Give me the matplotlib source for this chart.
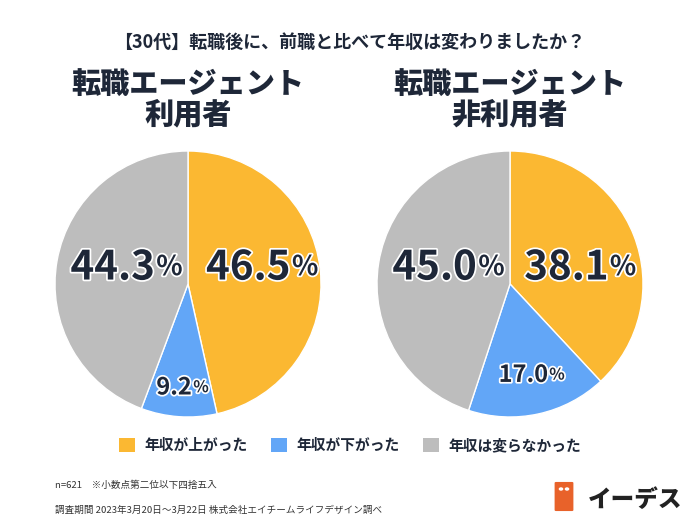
import numpy as np
import matplotlib.pyplot as plt
import matplotlib.patheffects as pe
from matplotlib.patches import Patch, FancyBboxPatch, Circle

plt.rcParams['font.family'] = ['Noto Sans CJK JP', 'DejaVu Sans']

# data
categories = ["年収が上がった", "年収が下がった", "年収は変らなかった"]
users = [46.5, 9.2, 44.3]
non_users = [38.1, 17.0, 45.0]
group_titles = ["転職エージェント\n利用者", "転職エージェント\n非利用者"]
title = "【30代】転職後に、前職と比べて年収は変わりましたか？"
note1 = "n=621　※小数点第二位以下四捨五入"
note2 = "調査期間 2023年3月20日～3月22日 株式会社エイチームライフデザイン調べ"

colors = ["#FBB832", "#62A6F7", "#BDBDBD"]
text_col = "#1E2738"

W, H = 700, 525
fig = plt.figure(figsize=(7, 5.25), dpi=100)
fig.patch.set_facecolor("white")


def px_axes(cx, cy, r):
    return fig.add_axes([(cx - r) / W, (H - cy - r) / H, 2 * r / W, 2 * r / H])


def draw_pie(ax, vals, dists, sizes):
    wedges, _ = ax.pie(vals, colors=colors, startangle=90, counterclock=False,
                       wedgeprops=dict(edgecolor="white", linewidth=1.0))
    ax.set_xlim(-1, 1)
    ax.set_ylim(-1, 1)
    ax.set_aspect("equal")
    ax.axis("off")
    for w, v, d, fs in zip(wedges, vals, dists, sizes):
        ang = np.deg2rad((w.theta1 + w.theta2) / 2)
        if fs > 20:
            # big labels sit on one line, slightly above the centre
            x = d * np.sign(np.cos(ang))
            y = 0.12
        else:
            x = d * np.cos(ang)
            y = d * np.sin(ang)
        pct_fs = fs * 0.68
        stroke = [pe.withStroke(linewidth=2.5, foreground="white")]
        t = ax.annotate(f"{v:.1f}", (x, y), xytext=(-pct_fs * 0.42, 0),
                        textcoords="offset points", ha="center", va="center",
                        fontsize=fs, fontweight="bold", color=text_col,
                        path_effects=stroke)
        ax.annotate("%", xy=(1, 0.18), xycoords=t, xytext=(1, 0),
                    textcoords="offset points", ha="left", va="bottom",
                    fontsize=pct_fs, fontweight="bold", color=text_col,
                    path_effects=stroke)


ax1 = px_axes(188, 284, 133)
draw_pie(ax1, users, [0.54, 0.78, 0.48], [29, 17, 29])
ax2 = px_axes(510, 284, 133)
draw_pie(ax2, non_users, [0.51, 0.70, 0.48], [29, 17, 29])

fig.text(350 / W, 1 - 42 / H, title, ha="center", va="center",
         fontsize=13, fontweight="bold", color=text_col)
for cx, g in zip([188, 510], group_titles):
    fig.text(cx / W, 1 - 100 / H, g, ha="center", va="center", fontsize=21,
             fontweight="black", color=text_col, linespacing=1.0)

handles = [Patch(facecolor=c, edgecolor="none") for c in colors]
leg = fig.legend(handles, categories, loc="center", bbox_to_anchor=(0.5, 1 - 445 / H),
                 ncol=3, frameon=False, fontsize=10.6, handlelength=1.1,
                 handleheight=1.1, handletextpad=0.6, columnspacing=1.6)
for t in leg.get_texts():
    t.set_fontweight("bold")
    t.set_color(text_col)

fig.text(55 / W, 1 - 485 / H, note1, ha="left", va="center", fontsize=6.9, color="#333333")
fig.text(55 / W, 1 - 510 / H, note2, ha="left", va="center", fontsize=6.9, color="#333333")

# logo
fig.patches.append(FancyBboxPatch((556 / W, 1 - 510 / H), 16 / W, 27 / H,
                                  boxstyle="round,pad=0.002", transform=fig.transFigure,
                                  facecolor="#E8622A", edgecolor="none"))
for ex in (561, 567):
    fig.patches.append(Circle((ex / W, 1 - 489 / H), 2.3 / W, transform=fig.transFigure,
                              facecolor="white", edgecolor="none"))
fig.text(588 / W, 1 - 500 / H, "イーデス", ha="left", va="center", fontsize=17,
         fontweight="black", color="#222222")

fig.savefig("out.png", dpi=100)
